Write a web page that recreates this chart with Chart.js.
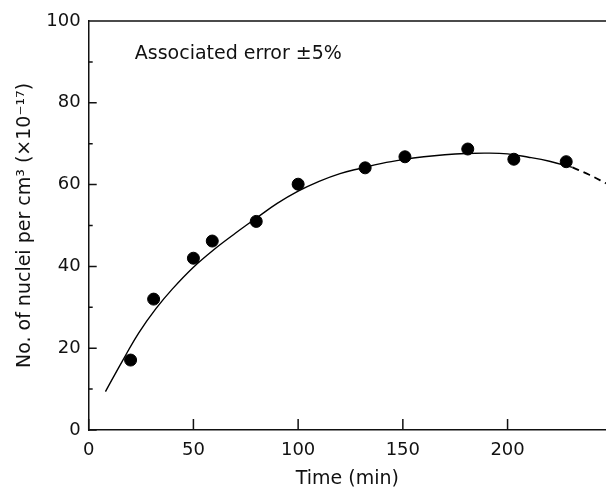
<!DOCTYPE html>
<html>
<head>
<meta charset="utf-8">
<script src="https://cdn.jsdelivr.net/npm/chart.js@4"></script>
<style>
  body { margin: 0; background: #fff; }
  canvas { display: block; }
</style>
</head>
<body>
<canvas id="nuclei" width="606" height="490"></canvas>
<script>
// measured points
const timeMin = [20, 31, 50, 59, 80, 100, 132, 151, 181, 203, 228];
const nuclei = [17.1, 32, 42, 46.2, 51, 60.1, 64.1, 66.8, 68.7, 66.2, 65.6];

// fitted curve (solid part, then dashed extrapolation)
const fitTime = [8, 16, 24, 32, 40, 50, 60, 70, 80, 90, 100, 110, 120, 130, 140, 150, 160, 170, 180, 190, 200, 210, 220, 231];
const fitValue = [9.4, 16.8, 23.8, 29.6, 34.5, 39.8, 44.2, 48.1, 51.8, 55.4, 58.4, 60.8, 62.7, 64.0, 65.2, 66.1, 66.8, 67.3, 67.6, 67.7, 67.5, 66.7, 65.7, 64.2];
const extTime = [231, 239, 247];
const extValue = [64.2, 62.4, 60.3];

const xTicks = [0, 50, 100, 150, 200];
const yTicks = [0, 20, 40, 60, 80, 100];
const yMinor = [10, 30, 50, 70, 90];

const note = 'Associated error \u00b15%';
const font = "'DejaVu Sans', sans-serif";

const pairs = (xs, ys) => xs.map((x, i) => ({ x: x, y: ys[i] }));

// inward tick marks, top frame line and the note
const frame = {
  id: 'frame',
  afterDraw(chart) {
    let { ctx, chartArea, scales: { x, y } } = chart;
    ctx.save();
    ctx.strokeStyle = '#111';
    ctx.lineWidth = 1.5;
    ctx.beginPath();
    ctx.moveTo(chartArea.left, chartArea.top);
    ctx.lineTo(chartArea.right, chartArea.top);
    xTicks.forEach(v => {
      let px = x.getPixelForValue(v);
      ctx.moveTo(px, chartArea.bottom);
      ctx.lineTo(px, chartArea.bottom - 11);
    });
    yTicks.forEach(v => {
      let py = y.getPixelForValue(v);
      ctx.moveTo(chartArea.left, py);
      ctx.lineTo(chartArea.left + 8, py);
    });
    yMinor.forEach(v => {
      let py = y.getPixelForValue(v);
      ctx.moveTo(chartArea.left, py);
      ctx.lineTo(chartArea.left + 4, py);
    });
    ctx.stroke();

    ctx.fillStyle = '#111';
    ctx.font = '19px ' + font;
    ctx.textBaseline = 'middle';
    ctx.fillText(note, x.getPixelForValue(22), y.getPixelForValue(92));
    ctx.restore();
  }
};

let data = {
  datasets: [
    {
      type: 'scatter',
      data: pairs(timeMin, nuclei),
      backgroundColor: '#000',
      borderColor: '#000',
      pointRadius: 6,
      pointHoverRadius: 6
    },
    {
      type: 'line',
      data: pairs(fitTime, fitValue),
      borderColor: '#000',
      borderWidth: 1.4,
      pointRadius: 0,
      tension: 0.4,
      fill: false
    },
    {
      type: 'line',
      data: pairs(extTime, extValue),
      borderColor: '#000',
      borderWidth: 1.8,
      borderDash: [7, 5],
      pointRadius: 0,
      tension: 0.4,
      fill: false
    }
  ]
};

let options = {
  responsive: false,
  animation: false,
  layout: { autoPadding: false, padding: { top: 21, right: 0, left: 0, bottom: 0 } },
  plugins: { legend: { display: false }, tooltip: { enabled: false } },
  scales: {
    x: {
      type: 'linear',
      min: 0,
      max: 247,
      afterBuildTicks: scale => { scale.ticks = xTicks.map(v => ({ value: v })); },
      afterFit: scale => { scale.height = 60; },
      grid: { display: false, drawTicks: false },
      border: { display: true, color: '#111', width: 1.5 },
      ticks: { color: '#111', padding: 10, font: { family: font, size: 18 } },
      title: {
        display: true,
        text: 'Time (min)',
        color: '#111',
        padding: { top: 0, bottom: 0 },
        font: { family: font, size: 19 }
      }
    },
    y: {
      min: 0,
      max: 100,
      afterBuildTicks: scale => { scale.ticks = yTicks.map(v => ({ value: v })); },
      afterFit: scale => { scale.width = 88.7; },
      grid: { display: false, drawTicks: false },
      border: { display: true, color: '#111', width: 1.5 },
      ticks: { color: '#111', padding: 8, font: { family: font, size: 18 } },
      title: {
        display: true,
        text: 'No. of nuclei per cm\u00b3 (\u00d710\u207b\u00b9\u2077)',
        color: '#111',
        padding: { top: 14, bottom: 0 },
        font: { family: font, size: 19 }
      }
    }
  }
};

new Chart('nuclei', { data, options, plugins: [frame] });
</script>
</body>
</html>
